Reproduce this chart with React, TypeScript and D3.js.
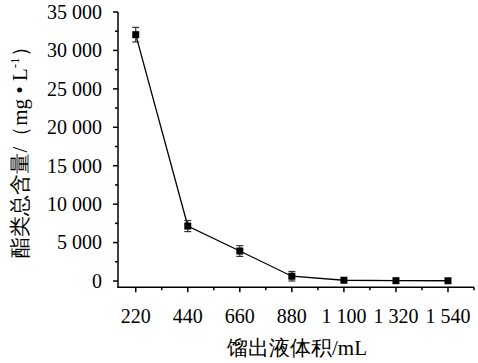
import React from "react";
import * as d3 from "d3";

const volumes = [220, 440, 660, 880, 1100, 1320, 1540];
const totals = [32050, 7150, 3900, 620, 100, 40, 30];
const errors = [950, 720, 700, 620, 0, 0, 0];
const xTickValues = [220, 440, 660, 880, 1100, 1320, 1540];
const xTickLabels = ["220", "440", "660", "880", "1 100", "1 320", "1 540"];
const yTickValues = [0, 5000, 10000, 15000, 20000, 25000, 30000, 35000];
const yTickLabels = ["0", "5 000", "10 000", "15 000", "20 000", "25 000", "30 000", "35 000"];

const W = 478;
const H = 363;
const LEFT = 118;
const RIGHT = 474;
const TOP = 12;
const BOTTOM = 287.3;
const FONT = "Liberation Serif, Tinos, Times New Roman, serif";

export default function App() {
  const x = d3.scaleLinear().domain([145, 1650]).range([LEFT, RIGHT]);
  const y = d3.scaleLinear().domain([-820, 35000]).range([BOTTOM, TOP]);
  const line = d3
    .line<number>()
    .x((_, i) => x(volumes[i]))
    .y((d) => y(d));
  const xMinor = d3.range(330, 1651, 220);
  const yMinor = d3.range(2500, 35000, 5000);
  return (
    <svg
      width={W}
      height={H}
      style={{ position: "absolute", left: 0, top: 0, background: "#fff" }}
    >
      <g stroke="#000" strokeWidth={1.5} fill="none">
        <line x1={LEFT} y1={TOP} x2={LEFT} y2={BOTTOM + 0.75} />
        <line x1={LEFT - 0.75} y1={BOTTOM} x2={RIGHT} y2={BOTTOM} />
        {yTickValues.map((v) => (
          <line key={"yt" + v} x1={LEFT - 5} x2={LEFT} y1={y(v)} y2={y(v)} />
        ))}
        {yMinor.map((v) => (
          <line key={"ym" + v} x1={LEFT - 3} x2={LEFT} y1={y(v)} y2={y(v)} />
        ))}
        {xTickValues.map((v) => (
          <line key={"xt" + v} x1={x(v)} x2={x(v)} y1={BOTTOM} y2={BOTTOM + 5} />
        ))}
        {xMinor.map((v) => (
          <line key={"xm" + v} x1={x(v)} x2={x(v)} y1={BOTTOM} y2={BOTTOM + 3} />
        ))}
      </g>
      <g style={{ fontFamily: FONT }} fontSize={20} fill="#000">
        {yTickValues.map((v, i) => (
          <text key={"yl" + v} x={LEFT - 16} y={y(v)} dy="0.34em" textAnchor="end">
            {yTickLabels[i]}
          </text>
        ))}
        {xTickValues.map((v, i) => (
          <text key={"xl" + v} x={x(v)} y={323} textAnchor="middle">
            {xTickLabels[i]}
          </text>
        ))}
      </g>
      <path d={line(totals) || ""} fill="none" stroke="#000" strokeWidth={1.3} />
      <g stroke="#333" strokeWidth={1.2}>
        {totals.map((v, i) =>
          errors[i] > 0 ? (
            <g key={"e" + i}>
              <line x1={x(volumes[i])} x2={x(volumes[i])} y1={y(v + errors[i])} y2={y(v - errors[i])} />
              <line x1={x(volumes[i]) - 3.5} x2={x(volumes[i]) + 3.5} y1={y(v + errors[i])} y2={y(v + errors[i])} />
              <line x1={x(volumes[i]) - 3.5} x2={x(volumes[i]) + 3.5} y1={y(v - errors[i])} y2={y(v - errors[i])} />
            </g>
          ) : null
        )}
      </g>
      {totals.map((v, i) => (
        <rect key={"m" + i} x={x(volumes[i]) - 3.5} y={y(v) - 3.5} width={7} height={7} fill="#000" />
      ))}
      <text
        x={297}
        y={355}
        textAnchor="middle"
        style={{ fontFamily: FONT }}
        fontSize={21}
        fill="#000"
      >
        馏出液体积/mL
      </text>
      <text
        transform="translate(27,147) rotate(-90)"
        textAnchor="middle"
        style={{ fontFamily: FONT }}
        fontSize={21}
        fill="#000"
      >
        酯类总含量/（mg • L
        <tspan fontSize={13} dy={-8}>-1</tspan>
        <tspan dy={8}>）</tspan>
      </text>
    </svg>
  );
}
